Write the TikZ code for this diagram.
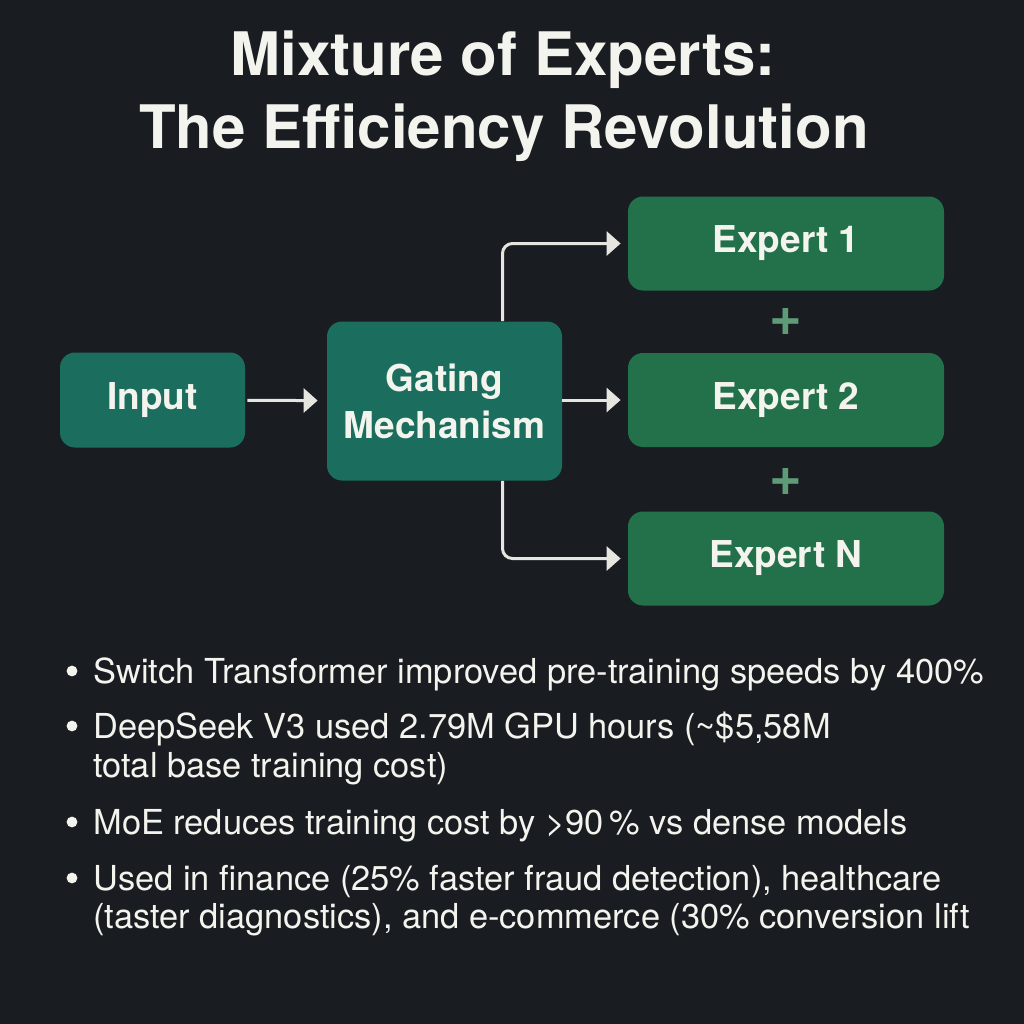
\documentclass[tikz,border=0pt]{standalone}
\usepackage{fontspec}
\setmainfont{TeX Gyre Heros}
\usetikzlibrary{arrows.meta}
\definecolor{bgdark}{HTML}{191D21}
\definecolor{gateteal}{HTML}{1B6E5D}
\definecolor{expgreen}{HTML}{23714A}
\definecolor{plusgreen}{HTML}{5E9C77}
\definecolor{offwhite}{HTML}{F4F4EE}
\definecolor{arrowgrey}{HTML}{E6E6E0}
\tikzset{
  box/.style={rounded corners=7.5pt, text=offwhite, align=center, inner sep=0pt,
    font=\bfseries\fontsize{18.5}{23.5}\selectfont},
  tealbox/.style={box, fill=gateteal},
  greenbox/.style={box, fill=expgreen, minimum width=158pt, minimum height=47pt},
  flow/.style={draw=arrowgrey, line width=1.5pt, -{Triangle[length=7pt,width=12pt]}},
  bulletline/.style={anchor=base west, text=offwhite, inner sep=0pt,
    font=\fontsize{17.2}{20}\selectfont},
  plussign/.style={text=plusgreen, inner sep=0pt, font=\bfseries\fontsize{28}{28}\selectfont},
  titleline/.style={anchor=base, text=offwhite, inner sep=0pt, font=\bfseries\fontsize{30}{36}\selectfont},
}
\begin{document}
\begin{tikzpicture}[x=0.5pt,y=-0.5pt]
			%%%%% START %%%%%
			\def\xexp{786}
			\def\xtext{93}
			\def\xdot{72}
			
			\fill[bgdark] (0,0) rectangle (1024,1024);
			
			\node[titleline] (title1) at (503,75) {Mixture of Experts:};
			\node[titleline] (title2) at (504,148) {The Efficiency Revolution};
			
			\node[tealbox, minimum width=92.5pt, minimum height=47.5pt] (input) at (152.5,400) {Input};
			\node[tealbox, minimum width=117.5pt, minimum height=79.5pt] (gating) at (444.5,401) {Gating\\Mechanism};
			
			\node[greenbox] (e1) at (\xexp,243.5) {Expert 1};
			\node[greenbox] (e2) at (\xexp,400) {Expert 2};
			\node[greenbox] (eN) at (\xexp,558.5) {Expert N};
			
			\node[plussign] (plus1) at (\xexp,322) {+};
			\node[plussign] (plus2) at (\xexp,482) {+};
			
			\draw[flow, shorten <=1pt, shorten >=4.5pt] (input) -- (gating);
			\draw[flow, shorten >=3.5pt] (gating.east |- e2) -- (e2.west);
			\draw[flow, rounded corners=5pt, shorten >=3.5pt] ([xshift=29pt]gating.north) |- (e1.west);
			\draw[flow, rounded corners=5pt, shorten >=3.5pt] ([xshift=29pt]gating.south) |- (eN.west);
			
			\foreach \by in {683,738,834,890}
				\fill[offwhite] (\xdot,\by-12) circle (2.7pt);
			
			\node[bulletline] (l1) at (\xtext,683) {Switch Transformer improved pre-training speeds by 400\%};
			\node[bulletline] (l2) at (\xtext,738) {DeepSeek V3 used 2.79M GPU hours (\textasciitilde\$5,58M};
			\node[bulletline] (l3) at (\xtext,777) {total base training cost)};
			\node[bulletline] (l4) at (\xtext,834) {MoE reduces training cost by >90\,\% vs dense models};
			\node[bulletline] (l5) at (\xtext,890) {Used in finance (25\% faster fraud detection), healthcare};
			\node[bulletline] (l6) at (\xtext,928) {(taster diagnostics), and e-commerce (30\% conversion lift};
			%%%%% END %%%%%
\end{tikzpicture}
\end{document}
